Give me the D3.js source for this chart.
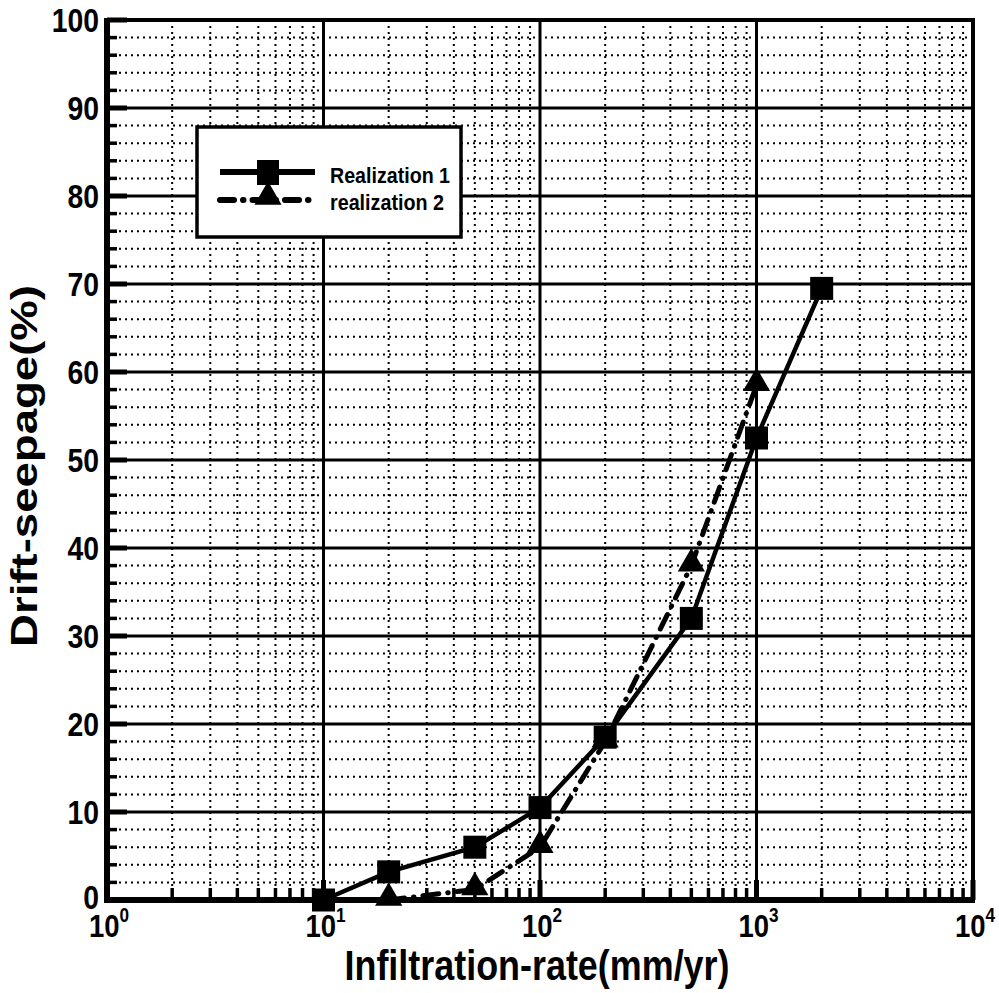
<!DOCTYPE html>
<html>
<head>
<meta charset="utf-8">
<script src="https://cdn.jsdelivr.net/npm/d3@7"></script>
<style>
  body { margin: 0; background: #fff; }
  text { font-family: "Liberation Sans", Arial, sans-serif; font-weight: bold; fill: #000; }
</style>
</head>
<body>
<div id="chart"></div>
<script>
// data
const rate1 = [10, 20, 50, 100, 200, 500, 1000, 2000];
const seep1 = [0, 3.2, 6, 10.5, 18.5, 32, 52.5, 69.5];
const rate2 = [20, 50, 100, 200, 500, 1000];
const seep2 = [0, 1.2, 6, 18, 38, 58.5];
const xDecades = [0, 1, 2, 3, 4];
const yTicks = [0, 10, 20, 30, 40, 50, 60, 70, 80, 90, 100];
const seriesNames = ['Realization 1', 'realization 2'];

const svgWidth = 999;
const svgHeight = 993;
const margin = { top: 20, right: 26, bottom: 93, left: 107 };
const width = svgWidth - margin.left - margin.right;
const height = svgHeight - margin.top - margin.bottom;

const svg = d3.select('#chart')
    .append('svg')
    .attr('width', svgWidth)
    .attr('height', svgHeight)
    .append('g')
    .attr('transform', 'translate(' + margin.left + ',' + margin.top + ')');

const xScale = d3.scaleLog()
    .domain([1, 10000])
    .range([0, width]);

const yScale = d3.scaleLinear()
    .domain([0, 100])
    .range([height, 0]);

// minor positions
const xMinor = [];
for (let e = 0; e < 4; e++) {
    for (let k = 2; k <= 9; k++) xMinor.push(k * Math.pow(10, e));
}
const yMinor = d3.range(0, 101, 2).filter(d => d % 10 !== 0);

// dotted minor grid
svg.append('g').selectAll('line')
    .data(xMinor)
    .enter().append('line')
    .attr('x1', d => xScale(d)).attr('x2', d => xScale(d))
    .attr('y1', 0).attr('y2', height)
    .attr('stroke', '#000')
    .attr('stroke-width', 2)
    .attr('stroke-dasharray', '2,4');

svg.append('g').selectAll('line')
    .data(yMinor)
    .enter().append('line')
    .attr('x1', 0).attr('x2', width)
    .attr('y1', d => yScale(d)).attr('y2', d => yScale(d))
    .attr('stroke', '#000')
    .attr('stroke-width', 2)
    .attr('stroke-dasharray', '2,4');

// major grid
svg.append('g').selectAll('line')
    .data(xDecades)
    .enter().append('line')
    .attr('x1', d => xScale(Math.pow(10, d))).attr('x2', d => xScale(Math.pow(10, d)))
    .attr('y1', 0).attr('y2', height)
    .attr('stroke', '#000')
    .attr('stroke-width', 3);

svg.append('g').selectAll('line')
    .data(yTicks)
    .enter().append('line')
    .attr('x1', 0).attr('x2', width)
    .attr('y1', d => yScale(d)).attr('y2', d => yScale(d))
    .attr('stroke', '#000')
    .attr('stroke-width', 3);

// inward ticks
svg.append('g').selectAll('line')
    .data(xMinor)
    .enter().append('line')
    .attr('x1', d => xScale(d)).attr('x2', d => xScale(d))
    .attr('y1', height).attr('y2', height - 12)
    .attr('stroke', '#000')
    .attr('stroke-width', 3.5);
svg.append('g').selectAll('line')
    .data(xDecades)
    .enter().append('line')
    .attr('x1', d => xScale(Math.pow(10, d))).attr('x2', d => xScale(Math.pow(10, d)))
    .attr('y1', height).attr('y2', height - 20)
    .attr('stroke', '#000')
    .attr('stroke-width', 5);
svg.append('g').selectAll('line')
    .data(yMinor)
    .enter().append('line')
    .attr('x1', 0).attr('x2', 10)
    .attr('y1', d => yScale(d)).attr('y2', d => yScale(d))
    .attr('stroke', '#000')
    .attr('stroke-width', 3.5);
svg.append('g').selectAll('line')
    .data(yTicks)
    .enter().append('line')
    .attr('x1', 0).attr('x2', 20)
    .attr('y1', d => yScale(d)).attr('y2', d => yScale(d))
    .attr('stroke', '#000')
    .attr('stroke-width', 5);

// frame
svg.append('rect')
    .attr('x', 0).attr('y', 0)
    .attr('width', width).attr('height', height)
    .attr('fill', 'none')
    .attr('stroke', '#000')
    .attr('stroke-width', 4);
svg.append('line')
    .attr('x1', 0).attr('x2', 0).attr('y1', -2).attr('y2', height + 3)
    .attr('stroke', '#000').attr('stroke-width', 6);
svg.append('line')
    .attr('x1', -3).attr('x2', width + 2).attr('y1', height).attr('y2', height)
    .attr('stroke', '#000').attr('stroke-width', 6);

// tick labels (condensed look via horizontal scale)
svg.append('g').selectAll('text')
    .data(yTicks)
    .enter().append('text')
    .attr('transform', d => 'translate(-8,' + (yScale(d) - (d === 0 ? 3 : 0)) + ') scale(0.86,1)')
    .attr('dy', '0.36em')
    .attr('text-anchor', 'end')
    .style('font-size', '33px')
    .text(d => d);

const xl = svg.append('g').selectAll('text')
    .data(xDecades)
    .enter().append('text')
    .attr('transform', d => 'translate(' + (xScale(Math.pow(10, d)) + 2) + ',' + (height + 37) + ') scale(0.86,1)')
    .attr('text-anchor', 'middle')
    .style('font-size', '32px');
xl.append('tspan').text('10');
xl.append('tspan')
    .attr('dy', -15)
    .style('font-size', '20px')
    .text(d => d);

// axis titles
svg.append('text')
    .attr('x', 430)
    .attr('y', height + 80)
    .attr('text-anchor', 'middle')
    .attr('textLength', 385)
    .attr('lengthAdjust', 'spacingAndGlyphs')
    .style('font-size', '42px')
    .text('Infiltration-rate(mm/yr)');

svg.append('text')
    .attr('transform', 'rotate(-90)')
    .attr('x', -446)
    .attr('y', -margin.left + 37)
    .attr('text-anchor', 'middle')
    .attr('textLength', 362)
    .attr('lengthAdjust', 'spacingAndGlyphs')
    .style('font-size', '37px')
    .text('Drift-seepage(%)');

// series
const line = d3.line()
    .x(d => xScale(d[0]))
    .y(d => yScale(d[1]));

const pts1 = rate1.map((r, i) => [r, seep1[i]]);
const pts2 = rate2.map((r, i) => [r, seep2[i]]);

svg.append('path')
    .datum(pts2)
    .attr('fill', 'none')
    .attr('stroke', '#000')
    .attr('stroke-width', 5)
    .attr('stroke-linecap', 'round')
    .attr('stroke-dasharray', '16,9,0.5,9')
    .attr('d', line);

svg.append('path')
    .datum(pts1)
    .attr('fill', 'none')
    .attr('stroke', '#000')
    .attr('stroke-width', 4.5)
    .attr('d', line);

const tri = d3.symbol().type(d3.symbolTriangle).size(320);
svg.append('g').selectAll('path')
    .data(pts2)
    .enter().append('path')
    .attr('d', tri)
    .attr('transform', d => 'translate(' + xScale(d[0]) + ',' + (yScale(d[1]) - 2) + ')')
    .attr('fill', '#000');

svg.append('g').selectAll('rect')
    .data(pts1)
    .enter().append('rect')
    .attr('x', d => xScale(d[0]) - 11.5)
    .attr('y', d => yScale(d[1]) - 11.5)
    .attr('width', 23)
    .attr('height', 23)
    .attr('fill', '#000');

// legend
const lg = svg.append('g')
    .attr('transform', 'translate(' + (197 - margin.left) + ',' + (127 - margin.top) + ')');
lg.append('rect')
    .attr('width', 264).attr('height', 110)
    .attr('fill', '#fff')
    .attr('stroke', '#000')
    .attr('stroke-width', 3.5);
lg.append('line')
    .attr('x1', 23).attr('x2', 118).attr('y1', 45).attr('y2', 45)
    .attr('stroke', '#000').attr('stroke-width', 6);
lg.append('rect')
    .attr('x', 60).attr('y', 33).attr('width', 22).attr('height', 25)
    .attr('fill', '#000');
lg.append('line')
    .attr('x1', 23).attr('x2', 118).attr('y1', 73).attr('y2', 73)
    .attr('stroke', '#000').attr('stroke-width', 6)
    .attr('stroke-linecap', 'round')
    .attr('stroke-dasharray', '14,9,0.5,9');
lg.append('path')
    .attr('d', tri)
    .attr('transform', 'translate(71,70)')
    .attr('fill', '#000');
lg.selectAll('.lt')
    .data(seriesNames)
    .enter().append('text')
    .attr('class', 'lt')
    .attr('x', 133)
    .attr('y', (d, i) => 56 + i * 27)
    .attr('textLength', (d, i) => i === 0 ? 120 : 114)
    .attr('lengthAdjust', 'spacingAndGlyphs')
    .style('font-size', '22px')
    .text(d => d);
</script>
</body>
</html>
